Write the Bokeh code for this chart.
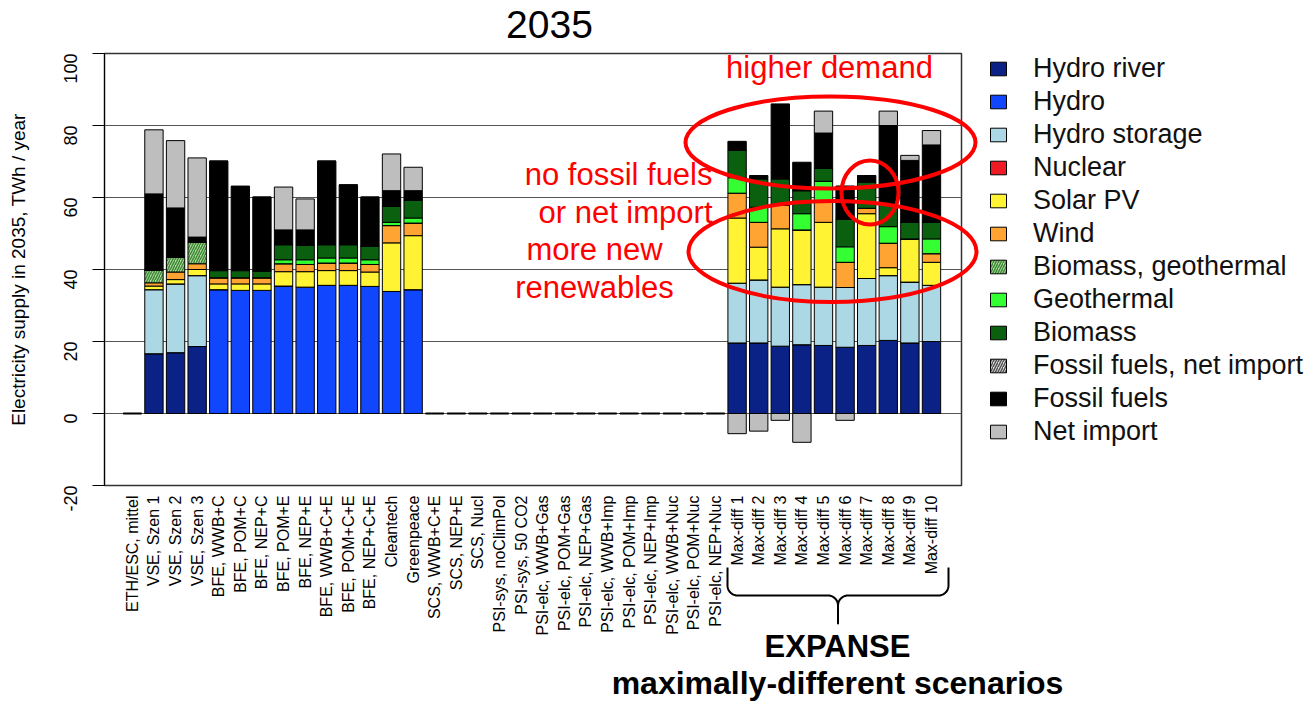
import numpy as np
from bokeh.plotting import figure
from bokeh.models import (Range1d, FixedTicker, Legend, LegendItem, ColumnDataSource)
from bokeh.core.properties import value
from bokeh.embed import file_html
from bokeh.resources import INLINE

# ---------------------------------------------------------------- data (TWh / year, 2035)
scenarios = [
    "ETH/ESC, mittel", "VSE, Szen 1", "VSE, Szen 2", "VSE, Szen 3",
    "BFE, WWB+C", "BFE, POM+C", "BFE, NEP+C", "BFE, POM+E", "BFE, NEP+E",
    "BFE, WWB+C+E", "BFE, POM+C+E", "BFE, NEP+C+E", "Cleantech", "Greenpeace",
    "SCS, WWB+C+E", "SCS, NEP+E", "SCS, Nucl", "PSI-sys, noClimPol", "PSI-sys, 50 CO2",
    "PSI-elc, WWB+Gas", "PSI-elc, POM+Gas", "PSI-elc, NEP+Gas",
    "PSI-elc, WWB+Imp", "PSI-elc, POM+Imp", "PSI-elc, NEP+Imp",
    "PSI-elc, WWB+Nuc", "PSI-elc, POM+Nuc", "PSI-elc, NEP+Nuc",
    "Max-diff 1", "Max-diff 2", "Max-diff 3", "Max-diff 4", "Max-diff 5",
    "Max-diff 6", "Max-diff 7", "Max-diff 8", "Max-diff 9", "Max-diff 10",
]

# rows: ETH, VSE x3, BFE x8, Cleantech, Greenpeace | SCS x3, PSI-sys x2, PSI-elc x9 | Max-diff 1..10
hydro_river = [0.0, 16.6, 16.9, 18.6, 0.0, 0.0, 0.0, 0.0, 0.0, 0.0, 0.0, 0.0, 0.0, 0.0,
               0.0, 0.0, 0.0, 0.0, 0.0, 0.0, 0.0, 0.0, 0.0, 0.0, 0.0, 0.0, 0.0, 0.0,
               19.6, 19.6, 18.7, 19.1, 18.9, 18.4, 18.9, 20.3, 19.6, 20.0]
hydro = [0.0, 0.0, 0.0, 0.0, 34.4, 34.2, 34.2, 35.4, 35.1, 35.6, 35.6, 35.3, 33.9, 34.4,
         0.0, 0.0, 0.0, 0.0, 0.0, 0.0, 0.0, 0.0, 0.0, 0.0, 0.0, 0.0, 0.0, 0.0,
         0.0, 0.0, 0.0, 0.0, 0.0, 0.0, 0.0, 0.0, 0.0, 0.0]
hydro_storage = [0.0, 17.8, 19.1, 19.7, 0.0, 0.0, 0.0, 0.0, 0.0, 0.0, 0.0, 0.0, 0.0, 0.0,
                 0.0, 0.0, 0.0, 0.0, 0.0, 0.0, 0.0, 0.0, 0.0, 0.0, 0.0, 0.0, 0.0, 0.0,
                 16.6, 17.5, 16.4, 16.7, 16.2, 16.6, 18.6, 18.0, 16.9, 15.6]
nuclear = [0.0, 0.0, 0.0, 0.0, 0.0, 0.0, 0.0, 0.0, 0.0, 0.0, 0.0, 0.0, 0.0, 0.0,
           0.0, 0.0, 0.0, 0.0, 0.0, 0.0, 0.0, 0.0, 0.0, 0.0, 0.0, 0.0, 0.0, 0.0,
           0.0, 0.0, 0.0, 0.0, 0.0, 0.0, 0.0, 0.0, 0.0, 0.0]
solar_pv = [0.0, 1.0, 1.2, 1.7, 1.6, 1.8, 1.8, 4.0, 4.3, 4.1, 4.1, 4.0, 13.5, 15.0,
            0.0, 0.0, 0.0, 0.0, 0.0, 0.0, 0.0, 0.0, 0.0, 0.0, 0.0, 0.0, 0.0, 0.0,
            18.1, 9.1, 16.2, 15.2, 18.0, 0.0, 18.0, 2.2, 12.0, 6.4]
wind = [0.0, 0.9, 2.1, 1.6, 1.7, 1.7, 1.7, 2.2, 2.0, 2.1, 2.1, 2.1, 4.8, 3.5,
        0.0, 0.0, 0.0, 0.0, 0.0, 0.0, 0.0, 0.0, 0.0, 0.0, 0.0, 0.0, 0.0, 0.0,
        6.9, 6.9, 6.5, 0.0, 5.9, 7.0, 1.5, 6.8, 0.0, 2.4]
biomass_geothermal = [0.0, 3.6, 4.1, 6.0, 0.0, 0.0, 0.0, 0.0, 0.0, 0.0, 0.0, 0.0, 0.0, 0.0,
                      0.0, 0.0, 0.0, 0.0, 0.0, 0.0, 0.0, 0.0, 0.0, 0.0, 0.0, 0.0, 0.0, 0.0,
                      0.0, 0.0, 0.0, 0.0, 0.0, 0.0, 0.0, 0.0, 0.0, 0.0]
geothermal = [0.0, 0.0, 0.0, 0.0, 0.0, 0.0, 0.0, 1.1, 1.3, 1.4, 1.4, 1.3, 0.9, 1.4,
              0.0, 0.0, 0.0, 0.0, 0.0, 0.0, 0.0, 0.0, 0.0, 0.0, 0.0, 0.0, 0.0, 0.0,
              4.3, 4.2, 0.0, 4.5, 5.5, 4.3, 0.0, 4.6, 0.0, 4.1]
biomass = [0.0, 0.0, 0.0, 0.0, 2.0, 2.0, 1.9, 4.2, 4.0, 3.7, 3.7, 3.8, 4.4, 5.0,
           0.0, 0.0, 0.0, 0.0, 0.0, 0.0, 0.0, 0.0, 0.0, 0.0, 0.0, 0.0, 0.0, 0.0,
           7.6, 7.9, 7.4, 6.4, 3.6, 7.7, 7.3, 6.4, 4.6, 4.6]
fossil_net_import = [0.0, 0.0, 0.0, 0.0, 0.0, 0.0, 0.0, 0.0, 0.0, 0.0, 0.0, 0.0, 0.0, 0.0,
                     0.0, 0.0, 0.0, 0.0, 0.0, 0.0, 0.0, 0.0, 0.0, 0.0, 0.0, 0.0, 0.0, 0.0,
                     0.0, 0.0, 0.0, 0.0, 0.0, 0.0, 0.0, 0.0, 0.0, 0.0]
fossil = [0.0, 21.1, 13.7, 1.4, 30.4, 23.4, 20.5, 4.1, 4.3, 23.2, 16.6, 13.6, 4.4, 2.6,
          0.0, 0.0, 0.0, 0.0, 0.0, 0.0, 0.0, 0.0, 0.0, 0.0, 0.0, 0.0, 0.0, 0.0,
          2.5, 0.9, 20.8, 7.9, 9.8, 9.2, 1.8, 21.7, 17.2, 21.5]
net_import = [0.0, 17.8, 18.7, 22.0, 0.0, 0.0, 0.0, 11.9, 8.6, 0.0, 0.0, 0.0, 10.2, 6.5,
              0.0, 0.0, 0.0, 0.0, 0.0, 0.0, 0.0, 0.0, 0.0, 0.0, 0.0, 0.0, 0.0, 0.0,
              -5.6, -4.9, -1.9, -8.0, 6.1, -1.9, 0.0, 4.0, 1.4, 4.0]

y_ticks = [-20, 0, 20, 40, 60, 80, 100]

series = [
    ("Hydro river", hydro_river),
    ("Hydro", hydro),
    ("Hydro storage", hydro_storage),
    ("Nuclear", nuclear),
    ("Solar PV", solar_pv),
    ("Wind", wind),
    ("Biomass, geothermal", biomass_geothermal),
    ("Geothermal", geothermal),
    ("Biomass", biomass),
    ("Fossil fuels, net import", fossil_net_import),
    ("Fossil fuels", fossil),
    ("Net import", net_import),
]

styles = {
    "Hydro river": dict(fill_color="#0a2186"),
    "Hydro": dict(fill_color="#1146ff"),
    "Hydro storage": dict(fill_color="#acd8e6"),
    "Nuclear": dict(fill_color="#ee1b24"),
    "Solar PV": dict(fill_color="#fff333"),
    "Wind": dict(fill_color="#ffa432"),
    "Biomass, geothermal": dict(fill_color="#b7dca6", hatch_pattern="right_diagonal_line",
                                hatch_color="#3d8a35", hatch_scale=5, hatch_weight=1.5),
    "Geothermal": dict(fill_color="#33ff33"),
    "Biomass": dict(fill_color="#0b600f"),
    "Fossil fuels, net import": dict(fill_color="#e0e0e0", hatch_pattern="right_diagonal_line",
                                     hatch_color="#555555", hatch_scale=5, hatch_weight=1.5),
    "Fossil fuels": dict(fill_color="#000000"),
    "Net import": dict(fill_color="#bebebe"),
}

FONT = "Liberation Sans"
W, H = 1316, 703
n = len(scenarios)
idx = np.arange(n)

# frame edges on the page (pixels)
FL, FR, FT, FB = 104, 961, 53, 485

fig = figure(width=W, height=H, output_backend="svg", toolbar_location=None,
             x_range=Range1d(-1.29, 38.39), y_range=Range1d(-20, 100),
             min_border_left=FL, min_border_right=W - FR,
             min_border_top=FT, min_border_bottom=H - FB)
fig.background_fill_color = "white"
fig.border_fill_color = "white"
fig.outline_line_color = "#333333"
fig.outline_line_width = 1.5

fig.xgrid.visible = False
fig.ygrid.ticker = FixedTicker(ticks=y_ticks)
fig.ygrid.grid_line_color = "#555555"
fig.ygrid.grid_line_width = 1

yax = fig.yaxis[0]
yax.ticker = FixedTicker(ticks=y_ticks)
yax.major_label_overrides = {t: str(t) for t in y_ticks}
yax.major_label_orientation = np.pi / 2
yax.major_label_text_font = FONT
yax.major_label_text_font_size = "18px"
yax.major_label_text_color = "black"
yax.major_tick_out = 12
yax.major_tick_in = 0
yax.minor_tick_out = 0
yax.minor_tick_in = 0
yax.major_tick_line_color = "black"
yax.axis_line_color = "black"
yax.major_label_standoff = 22
yax.axis_label = "Electricity supply in 2035, TWh / year"
yax.axis_label_text_font = FONT
yax.axis_label_text_font_size = "19px"
yax.axis_label_text_font_style = "normal"
yax.axis_label_text_color = "black"
yax.axis_label_standoff = 26

xax = fig.xaxis[0]
xax.ticker = FixedTicker(ticks=list(idx))
xax.major_label_overrides = {int(i): s for i, s in enumerate(scenarios)}
xax.major_label_orientation = np.pi / 2
xax.major_label_text_font = FONT
xax.major_label_text_font_size = "16px"
xax.major_label_text_color = "black"
xax.major_tick_out = 0
xax.major_tick_in = 0
xax.minor_tick_out = 0
xax.minor_tick_in = 0
xax.axis_line_color = None
xax.major_label_standoff = 10

# stacked bars: positive parts stack upwards from 0, negative parts downwards
pos_base = np.zeros(n)
neg_base = np.zeros(n)
sources = []
for name, vals in series:
    v = np.asarray(vals, dtype=float)
    top = np.where(v >= 0, pos_base + v, neg_base)
    bottom = np.where(v >= 0, pos_base, neg_base + v)
    pos_base = pos_base + np.clip(v, 0, None)
    neg_base = neg_base + np.clip(v, None, 0)
    src = ColumnDataSource(dict(x=idx, top=top, bottom=bottom))
    sources.append(src)
    fig.vbar(x="x", top="top", bottom="bottom", width=0.85, source=src,
             line_color="black", line_width=1, **styles[name])

# scenarios without 2035 figures show as a flat bar on the zero line
totals = np.abs(np.array([s[1] for s in series])).sum(axis=0)
empty = totals == 0
zsrc = ColumnDataSource(dict(x=idx[empty], top=np.zeros(empty.sum()),
                             bottom=np.zeros(empty.sum())))
fig.vbar(x="x", top="top", bottom="bottom", width=0.85, source=zsrc,
         fill_color="black", line_color="black", line_width=2)

# ---------------------------------------------------------------- annotation layer
# transparent page-sized layer pulled up over the chart; coordinates are page pixels (y down)
ov = figure(width=W, height=H, output_backend="svg", toolbar_location=None,
            x_range=Range1d(0, W), y_range=Range1d(H, 0),
            x_axis_location=None, y_axis_location=None,
            min_border=0, min_border_left=0, min_border_right=0,
            min_border_top=0, min_border_bottom=0)
ov.margin = (-H, 0, 0, 0)
ov.background_fill_color = None
ov.border_fill_color = None
ov.outline_line_color = None
ov.grid.visible = False

# legend keys share the bar sources; the key renderers themselves stay hidden
legend_items = []
for (name, _), src in zip(series, sources):
    key = ov.vbar(x="x", top="top", bottom="bottom", width=0.85, source=src,
                  line_color="black", line_width=1, visible=False, **styles[name])
    legend_items.append(LegendItem(label=name, renderers=[key]))
legend = Legend(items=legend_items, location=(988, 256), orientation="vertical",
                border_line_color=None, background_fill_alpha=0, padding=0, margin=0,
                glyph_width=20, glyph_height=17, label_standoff=25, spacing=2,
                inactive_fill_alpha=0,
                label_text_font=FONT, label_text_font_size="27px",
                label_text_color="#111111")
ov.add_layout(legend)


def note(xs, baselines, texts, size, align="center", color="black", style="normal"):
    # texts are placed by their vertical middle, derived from the wanted baseline
    mids = [b - 0.36 * size for b in baselines]
    ov.text(x=xs, y=mids, text=texts, text_align=align, text_baseline="middle",
            text_font=value(FONT), text_font_size=f"{size}px", text_color=color,
            text_font_style=style)


note([549], [38], ["2035"], 39)

# red highlight rings
ov.ellipse(x=[830, 832, 869.5], y=[142, 251, 192], width=[290, 288, 57],
           height=[92, 101, 64], fill_color=None, line_color="#ff0000", line_width=4)

note([829, 594, 594], [78, 260, 298], ["higher demand", "more new", "renewables"], 31,
     color="#ff0000")
note([712, 712], [185, 223], ["no fossil fuels", "or net import"], 31, align="right",
     color="#ff0000")

# curly brace under the Max-diff group
cxm, xl, ytip, ybar, ystem, r = 837.5, 727, 567, 595, 623, 10
half = [(xl, ytip), (xl, ybar - r)]
for a in np.linspace(0, np.pi / 2, 12):
    half.append((xl + r - r * np.cos(a), ybar - r + r * np.sin(a)))
for a in np.linspace(0, np.pi / 2, 12):
    half.append((cxm - r + r * np.sin(a), ybar + r - r * np.cos(a)))
half.append((cxm, ystem))
other = [(2 * cxm - x, y) for x, y in half][::-1]
bx = [x for x, _ in half] + [x for x, _ in other]
by = [y for _, y in half] + [y for _, y in other]
ov.line(x=bx, y=by, line_color="black", line_width=2, line_join="round")

note([837], [657], ["EXPANSE"], 31, style="bold")
note([837], [694], ["maximally-different scenarios"], 32, style="bold")

p = [fig, ov]
open("out.html", "w").write(file_html(p, INLINE))
